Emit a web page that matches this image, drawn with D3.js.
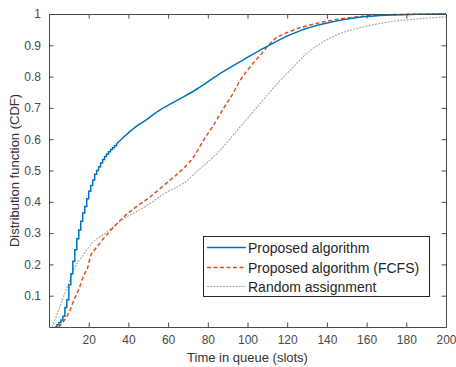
<!DOCTYPE html>
<html>
<head>
<meta charset="utf-8">
<script src="https://cdn.jsdelivr.net/npm/d3@7/dist/d3.min.js"></script>
<style>
  html, body { margin: 0; padding: 0; background: #fff; }
  svg { display: block; font-family: "Liberation Sans", Arial, Helvetica, sans-serif; }
</style>
</head>
<body>
<svg id="chart" width="456" height="367"></svg>
<script>
// ---- Data ----
const seriesNames = ["Proposed algorithm", "Proposed algorithm (FCFS)", "Random assignment"];

// Proposed algorithm: staircase part (integer slots) then fine part
const blueStepX = [3, 4, 5, 6, 7, 8, 9, 10, 11, 12, 13, 14, 15, 16, 17, 18, 19, 20, 21, 22, 23, 24, 25, 26, 27, 28, 29, 30, 31, 32, 33, 34];
const blueStepY = [0, 0.007, 0.014, 0.022, 0.034, 0.062, 0.087, 0.135, 0.17, 0.21, 0.247, 0.282, 0.31, 0.338, 0.364, 0.385, 0.41, 0.434, 0.452, 0.47, 0.488, 0.5, 0.512, 0.524, 0.535, 0.545, 0.553, 0.56, 0.567, 0.573, 0.579, 0.585];
const blueX = [34, 38.5, 44, 48.6, 53, 57, 62, 68, 75, 85, 96.4, 101.5, 111.5, 121.6, 126.6, 138.4, 155.2, 172, 185, 200];
const blueY = [0.585, 0.612, 0.641, 0.660, 0.681, 0.698, 0.715, 0.736, 0.762, 0.805, 0.848, 0.867, 0.902, 0.934, 0.947, 0.969, 0.989, 0.997, 0.999, 1.0];

// Proposed algorithm (FCFS)
const orangeX = [5, 7.5, 10, 12.5, 15, 17.5, 19.5, 21, 23.4, 26, 31, 37.6, 42.7, 51, 57.8, 63, 68, 73, 78, 83, 88, 92.2, 96.4, 101.5, 106.5, 113.2, 121.6, 130, 138.4, 155.2, 172, 200];
const orangeY = [0, 0.02, 0.045, 0.085, 0.12, 0.165, 0.19, 0.228, 0.25, 0.271, 0.308, 0.351, 0.378, 0.416, 0.452, 0.48, 0.508, 0.545, 0.598, 0.646, 0.699, 0.741, 0.789, 0.832, 0.869, 0.917, 0.945, 0.962, 0.975, 0.991, 0.998, 1.0];

// Random assignment
const grayX = [1.6, 4.9, 7.4, 9.9, 12.4, 16.7, 21.7, 28.4, 36.8, 48.6, 58.6, 67.9, 76, 84.7, 96.4, 106.5, 116.6, 121.6, 130, 138.4, 146.8, 155.2, 172, 188.8, 200];
const grayY = [0, 0.055, 0.098, 0.14, 0.183, 0.225, 0.268, 0.30, 0.342, 0.385, 0.428, 0.46, 0.505, 0.555, 0.64, 0.715, 0.789, 0.821, 0.875, 0.912, 0.938, 0.954, 0.975, 0.986, 0.991];

const xTicks = [20, 40, 60, 80, 100, 120, 140, 160, 180, 200];
const yTicks = [0.1, 0.2, 0.3, 0.4, 0.5, 0.6, 0.7, 0.8, 0.9, 1];
const xLabel = "Time in queue (slots)";
const yLabel = "Distribution function (CDF)";

// ---- Layout ----
const L = 49, R = 446, T = 14, B = 327;
const svg = d3.select("#chart");
const x = d3.scaleLinear().domain([0, 200]).range([L, R]);
const y = d3.scaleLinear().domain([0, 1]).range([B, T]);

const axisColor = "#4a4a4a";
const textColor = "#4a4a4a";
const tickLen = 4.5;

const colors = ["#0072BD", "#D95319", "#a6a6a6"];

// Lines
const zip = (xs, ys) => xs.map((v, i) => [v, ys[i]]);
const stepLine = d3.line().x(d => x(d[0])).y(d => y(d[1])).curve(d3.curveStepAfter);
const smooth = d3.line().x(d => x(d[0])).y(d => y(d[1])).curve(d3.curveMonotoneX);

const plot = svg.append("g");
plot.append("path").attr("d", smooth(zip(grayX, grayY)))
  .attr("fill", "none").attr("stroke", colors[2]).attr("stroke-width", 1.1)
  .attr("stroke-dasharray", "2,1.2");
plot.append("path").attr("d", smooth(zip(orangeX, orangeY)))
  .attr("fill", "none").attr("stroke", colors[1]).attr("stroke-width", 1.5)
  .attr("stroke-dasharray", "4,2.5");
plot.append("path").attr("d", stepLine(zip(blueStepX, blueStepY)))
  .attr("fill", "none").attr("stroke", colors[0]).attr("stroke-width", 1.5);
plot.append("path").attr("d", smooth(zip(blueX, blueY)))
  .attr("fill", "none").attr("stroke", colors[0]).attr("stroke-width", 1.5);

// Axes (box with inward ticks)
const xb = svg.append("g").attr("transform", `translate(0,${B})`)
  .call(d3.axisBottom(x).tickValues(xTicks).tickSizeInner(-tickLen).tickSizeOuter(0).tickPadding(8).tickFormat(d3.format("d")));
const xt = svg.append("g").attr("transform", `translate(0,${T})`)
  .call(d3.axisTop(x).tickValues(xTicks).tickSizeInner(-tickLen).tickSizeOuter(0).tickFormat(""));
const yl = svg.append("g").attr("transform", `translate(${L},0)`)
  .call(d3.axisLeft(y).tickValues(yTicks).tickSizeInner(-tickLen).tickSizeOuter(0).tickPadding(8).tickFormat(d => d === 1 ? "1" : d3.format(".1f")(d)));
const yr = svg.append("g").attr("transform", `translate(${R},0)`)
  .call(d3.axisRight(y).tickValues(yTicks).tickSizeInner(-tickLen).tickSizeOuter(0).tickFormat(""));

[xb, xt, yl, yr].forEach(g => {
  g.select(".domain").attr("stroke", axisColor).attr("stroke-width", 1);
  g.selectAll(".tick line").attr("stroke", axisColor).attr("stroke-width", 1);
  g.selectAll(".tick text").attr("fill", textColor).style("font-size", "12px")
    .style("font-family", '"Liberation Sans", Arial, sans-serif');
});

// Axis labels
svg.append("text").attr("x", (L + R) / 2).attr("y", 362).attr("text-anchor", "middle")
  .attr("fill", "#333").style("font-size", "13px").text(xLabel);
svg.append("text").attr("transform", `translate(19,${(T + B) / 2}) rotate(-90)`)
  .attr("text-anchor", "middle").attr("fill", "#333").style("font-size", "13px").text(yLabel);

// Legend
const lg = svg.append("g");
lg.append("rect").attr("x", 203.5).attr("y", 236.5).attr("width", 226).attr("height", 60)
  .attr("fill", "#fff").attr("stroke", "#262626").attr("stroke-width", 1);
const rowsY = [247.5, 267.5, 286.5];
const dashes = [null, "4,2.5", "2,1.2"];
const widths = [1.5, 1.5, 1.1];
seriesNames.forEach((name, i) => {
  lg.append("line").attr("x1", 207).attr("x2", 246).attr("y1", rowsY[i]).attr("y2", rowsY[i])
    .attr("stroke", colors[i]).attr("stroke-width", widths[i])
    .attr("stroke-dasharray", dashes[i]);
  lg.append("text").attr("x", 248).attr("y", rowsY[i]).attr("dy", "0.36em")
    .attr("fill", "#262626").style("font-size", "14px").text(name);
});
</script>
</body>
</html>
